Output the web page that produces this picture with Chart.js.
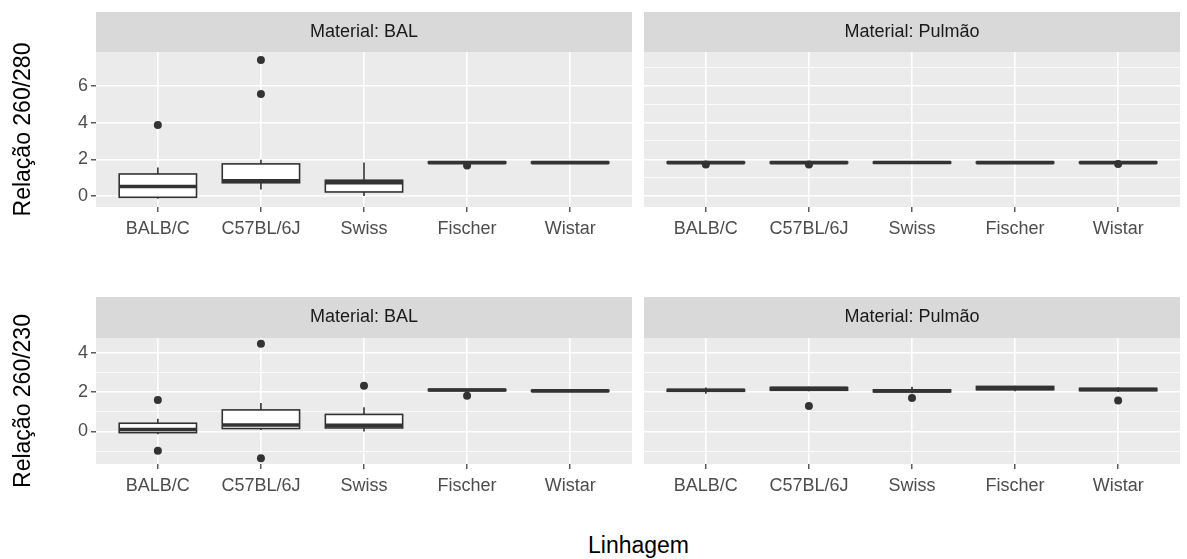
<!DOCTYPE html>
<html lang="pt">
<head>
<meta charset="UTF-8">
<title>Relação 260/280 e 260/230 por linhagem</title>
<script src="https://cdn.jsdelivr.net/npm/chart.js"></script>
<style>
    body {
        margin: 0;
        background: #fff;
        font-family: "Liberation Sans", Arial, sans-serif;
    }
    #pagina {
        position: relative;
        width: 1187px;
        height: 559px;
    }
    .painel {
        position: absolute;
    }
    #xtitulo {
        position: absolute;
        left: 96px;
        width: 1085px;
        top: 534px;
        text-align: center;
        font-size: 23px;
        line-height: 1;
        color: #000;
    }
</style>
</head>
<body>
<div id="pagina">
    <div class="painel" style="left:0;top:0;width:636px;height:245px"><canvas id="c280bal"></canvas></div>
    <div class="painel" style="left:640px;top:0;width:547px;height:245px"><canvas id="c280pul"></canvas></div>
    <div class="painel" style="left:0;top:250px;width:636px;height:252px"><canvas id="c230bal"></canvas></div>
    <div class="painel" style="left:640px;top:250px;width:547px;height:252px"><canvas id="c230pul"></canvas></div>
    <div id="xtitulo">Linhagem</div>
</div>

<script>
    // categorias do eixo x
    const categorias = ['BALB/C', 'C57BL/6J', 'Swiss', 'Fischer', 'Wistar'];

    // ticks do eixo y (principais e secundários)
    const ticks280 = [0, 2, 4, 6];
    const ticks280Menores = [1, 3, 5, 7];
    const ticks230 = [0, 2, 4];
    const ticks230Menores = [-1, 1, 3];

    // caixas: [bigode inferior, Q1, mediana, Q3, bigode superior] por linhagem
    const bal280 = [
        [-0.15, -0.07, 0.52, 1.20, 1.55],
        [0.36, 0.72, 0.83, 1.75, 1.97],
        [0.00, 0.22, 0.72, 0.86, 1.83],
        [1.76, 1.79, 1.82, 1.86, 1.88],
        [1.79, 1.80, 1.82, 1.85, 1.86]
    ];
    const bal280Outliers = [[3.87], [7.42, 5.56], [], [1.66], []];

    const pul280 = [
        [1.78, 1.80, 1.82, 1.85, 1.87],
        [1.78, 1.80, 1.82, 1.85, 1.87],
        [1.78, 1.80, 1.83, 1.85, 1.87],
        [1.79, 1.80, 1.82, 1.85, 1.86],
        [1.77, 1.80, 1.82, 1.85, 1.87]
    ];
    const pul280Outliers = [[1.72], [1.72], [], [], [1.75]];

    const bal230 = [
        [-0.14, -0.06, 0.10, 0.42, 0.65],
        [0.08, 0.15, 0.33, 1.10, 1.45],
        [0.00, 0.18, 0.31, 0.87, 1.24],
        [2.05, 2.08, 2.12, 2.15, 2.17],
        [2.03, 2.05, 2.07, 2.10, 2.12]
    ];
    const bal230Outliers = [[1.60, -0.98], [4.48, -1.37], [2.33], [1.82], []];

    const pul230 = [
        [1.93, 2.05, 2.10, 2.14, 2.25],
        [2.05, 2.10, 2.20, 2.24, 2.28],
        [1.95, 2.02, 2.07, 2.12, 2.28],
        [2.05, 2.13, 2.20, 2.30, 2.33],
        [2.02, 2.08, 2.14, 2.20, 2.26]
    ];
    const pul230Outliers = [[], [1.30], [1.71], [], [1.58]];

    Chart.defaults.font.family = '"Liberation Sans", Arial, sans-serif';

    // fundo cinza do painel e a faixa com o título da faceta
    function fundo(texto, alturaFaixa) {
        return {
            id: 'fundo',
            beforeDraw(chart) {
                const {ctx, chartArea: a} = chart;
                ctx.save();
                ctx.fillStyle = '#EBEBEB';
                ctx.fillRect(a.left, a.top, a.right - a.left, a.bottom - a.top);
                ctx.fillStyle = '#D9D9D9';
                ctx.fillRect(a.left, a.top - alturaFaixa, a.right - a.left, alturaFaixa);
                ctx.fillStyle = '#1A1A1A';
                ctx.font = '18px "Liberation Sans", Arial, sans-serif';
                ctx.textAlign = 'center';
                ctx.textBaseline = 'middle';
                ctx.fillText(texto, (a.left + a.right) / 2, a.top - alturaFaixa / 2);
                ctx.restore();
            }
        };
    }

    // desenha as caixas usando as escalas do gráfico
    function caixas(stats) {
        return {
            id: 'caixas',
            beforeDatasetsDraw(chart) {
                const {ctx, scales: {x, y}} = chart;
                const meia = x.getPixelForValue(0.375) - x.getPixelForValue(0);
                ctx.save();
                ctx.strokeStyle = '#333333';
                stats.forEach((s, i) => {
                    const cx = x.getPixelForValue(i);
                    const [lo, q1, med, q3, hi] = s.map(v => y.getPixelForValue(v));
                    ctx.lineWidth = 1.6;
                    ctx.beginPath();
                    ctx.moveTo(cx, hi);
                    ctx.lineTo(cx, q3);
                    ctx.moveTo(cx, q1);
                    ctx.lineTo(cx, lo);
                    ctx.stroke();
                    ctx.fillStyle = '#FFFFFF';
                    ctx.fillRect(cx - meia, q3, 2 * meia, q1 - q3);
                    ctx.strokeRect(cx - meia, q3, 2 * meia, q1 - q3);
                    ctx.lineWidth = 3.6;
                    ctx.beginPath();
                    ctx.moveTo(cx - meia, med);
                    ctx.lineTo(cx + meia, med);
                    ctx.stroke();
                });
                ctx.restore();
            }
        };
    }

    function pontos(outliers) {
        const out = [];
        outliers.forEach((lista, i) => lista.forEach(v => out.push({x: i, y: v})));
        return out;
    }

    function painel(id, cfg) {
        const esquerda = cfg.tituloY !== undefined;
        const todos = cfg.ticks.concat(cfg.menores).sort((a, b) => a - b);
        new Chart(document.getElementById(id), {
            type: 'scatter',
            data: {
                datasets: [{
                    data: pontos(cfg.outliers),
                    pointRadius: 4,
                    pointBackgroundColor: '#333333',
                    pointBorderWidth: 0
                }]
            },
            options: {
                responsive: true,
                maintainAspectRatio: false,
                animation: false,
                layout: {padding: cfg.padding},
                plugins: {
                    legend: {display: false},
                    tooltip: {enabled: false}
                },
                scales: {
                    x: {
                        type: 'linear',
                        min: -0.6,
                        max: 4.6,
                        afterBuildTicks: s => { s.ticks = categorias.map((_, i) => ({value: i})); },
                        afterFit: s => { s.height = 35; },
                        ticks: {
                            callback: v => categorias[v],
                            autoSkip: false,
                            maxRotation: 0,
                            color: '#4D4D4D',
                            font: {size: 18},
                            padding: 6
                        },
                        grid: {
                            color: '#FFFFFF',
                            lineWidth: 1.6,
                            tickColor: '#333333',
                            tickLength: 5,
                            tickWidth: 1.2
                        },
                        border: {display: false}
                    },
                    y: {
                        min: cfg.min,
                        max: cfg.max,
                        afterBuildTicks: s => { s.ticks = todos.map(v => ({value: v})); },
                        afterFit: s => { s.width = esquerda ? 96 : 0; },
                        ticks: {
                            display: esquerda,
                            callback: v => cfg.ticks.includes(v) ? String(v) : '',
                            color: '#4D4D4D',
                            font: {size: 18},
                            padding: 3
                        },
                        grid: {
                            color: '#FFFFFF',
                            lineWidth: c => (c.tick && cfg.ticks.includes(c.tick.value)) ? 1.6 : 0.8,
                            tickColor: c => (c.tick && cfg.ticks.includes(c.tick.value)) ? '#333333' : 'rgba(0,0,0,0)',
                            tickLength: esquerda ? 5 : 0,
                            tickWidth: 1.2,
                            drawTicks: esquerda
                        },
                        border: {display: false},
                        title: {
                            display: esquerda,
                            text: cfg.tituloY || '',
                            color: '#000000',
                            font: {size: 23},
                            padding: {top: 10, bottom: 0}
                        }
                    }
                }
            },
            plugins: [fundo(cfg.faixa, cfg.alturaFaixa), caixas(cfg.stats)]
        });
    }

    painel('c280bal', {
        faixa: 'Material: BAL', alturaFaixa: 40, tituloY: 'Relação 260/280',
        stats: bal280, outliers: bal280Outliers, ticks: ticks280, menores: ticks280Menores,
        min: -0.6, max: 7.85, padding: {top: 52, right: 4, bottom: 3, left: 0}
    });
    painel('c280pul', {
        faixa: 'Material: Pulmão', alturaFaixa: 40,
        stats: pul280, outliers: pul280Outliers, ticks: ticks280, menores: ticks280Menores,
        min: -0.6, max: 7.85, padding: {top: 52, right: 7, bottom: 3, left: 4}
    });
    painel('c230bal', {
        faixa: 'Material: BAL', alturaFaixa: 41, tituloY: 'Relação 260/230',
        stats: bal230, outliers: bal230Outliers, ticks: ticks230, menores: ticks230Menores,
        min: -1.66, max: 4.77, padding: {top: 88, right: 4, bottom: 3, left: 0}
    });
    painel('c230pul', {
        faixa: 'Material: Pulmão', alturaFaixa: 41,
        stats: pul230, outliers: pul230Outliers, ticks: ticks230, menores: ticks230Menores,
        min: -1.66, max: 4.77, padding: {top: 88, right: 7, bottom: 3, left: 4}
    });
</script>
</body>
</html>
